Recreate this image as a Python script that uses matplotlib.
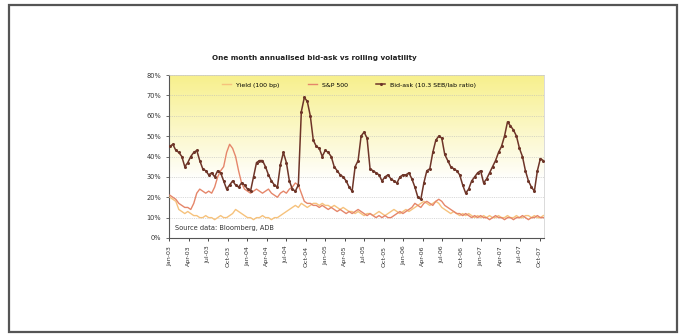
import numpy as np
import pandas as pd
import matplotlib
matplotlib.use("Agg")
import matplotlib.pyplot as plt
from matplotlib.patches import Rectangle
from matplotlib.ticker import FuncFormatter, MultipleLocator

# Fortnightly observations, in percent
dates = pd.date_range("2003-01-03", periods=126, freq="14D")

bid_ask = [45, 46, 43, 42, 40, 35, 37, 40, 42, 43, 38, 34, 33, 31, 32, 30, 33, 32, 28, 24,
           26, 28, 26, 25, 27, 26, 24, 23, 30, 37, 38, 38, 35, 31, 28, 26, 25, 36, 42, 37,
           28, 24, 23, 26, 62, 69, 67, 60, 48, 45, 44, 40, 43, 42, 40, 35, 33, 31, 30, 28,
           25, 23, 35, 38, 50, 52, 49, 34, 33, 32, 31, 28, 30, 31, 29, 28, 27, 30, 31, 31,
           32, 29, 25, 20, 19, 27, 33, 34, 42, 48, 50, 49, 41, 38, 35, 34, 33, 31, 26, 22,
           24, 28, 30, 32, 33, 27, 29, 32, 35, 38, 42, 45, 50, 57, 55, 53, 50, 44, 40, 33,
           28, 25, 23, 33, 39, 38]

sp500 = [21, 20, 19, 17, 16, 15, 15, 14, 17, 22, 24, 23, 22, 23, 22, 25, 30, 33, 35, 42,
         46, 44, 40, 33, 27, 24, 23, 22, 23, 24, 23, 22, 23, 24, 22, 21, 20, 22, 23, 22,
         24, 25, 27, 26, 22, 18, 17, 17, 16, 16, 15, 16, 15, 14, 15, 14, 13, 14, 13, 12,
         13, 12, 13, 14, 13, 12, 11, 12, 11, 10, 11, 10, 11, 10, 10, 11, 12, 13, 12, 13,
         14, 15, 17, 16, 15, 17, 18, 17, 16, 18, 19, 18, 16, 15, 14, 13, 12, 12, 11, 12,
         11, 10, 11, 10, 11, 10, 10, 9, 10, 11, 10, 10, 9, 10, 10, 9, 10, 10, 11, 10,
         9, 10, 10, 11, 10, 10]

yield_vol = [20, 19, 18, 14, 13, 12, 13, 12, 11, 11, 10, 10, 11, 10, 10, 9, 10, 11, 10, 10,
             11, 12, 14, 13, 12, 11, 10, 10, 9, 10, 10, 11, 10, 10, 9, 10, 10, 11, 12, 13,
             14, 15, 16, 15, 17, 16, 15, 16, 17, 17, 16, 17, 16, 16, 15, 16, 15, 14, 15, 14,
             13, 13, 12, 13, 12, 11, 12, 12, 11, 12, 13, 12, 11, 12, 13, 14, 13, 12, 13, 14,
             13, 14, 15, 16, 17, 18, 17, 16, 17, 18, 17, 15, 14, 13, 12, 13, 12, 11, 12, 11,
             12, 11, 10, 11, 10, 11, 10, 11, 10, 10, 11, 10, 10, 11, 10, 10, 11, 10, 10, 11,
             11, 10, 11, 10, 10, 11]

series_names = ["Yield (100 bp)", "S&P 500", "Bid-ask (10.3 SEB/lab ratio)"]
series_colors = ["#f6c27c", "#e5866a", "#6e3528"]

tick_dates = pd.date_range("2003-01-01", periods=20, freq="QS")
tick_labels = [d.strftime("%b-%y") for d in tick_dates]

fig = plt.figure(figsize=(6.84, 3.34), dpi=100)
fig.patch.set_facecolor("white")

# outer frame
fig.patches.append(Rectangle((9 / 684, 2 / 334), 668 / 684, 327 / 334,
                             transform=fig.transFigure, fill=False,
                             edgecolor="#555555", linewidth=1.6))

ax = fig.add_axes([169 / 684, 1 - 238 / 334, 375 / 684, 163 / 334])

# yellow-to-white background
grad = np.linspace(0, 1, 256).reshape(-1, 1)
top = np.array([0.97, 0.94, 0.55])
bottom = np.array([1.0, 1.0, 1.0])
frac = np.clip((grad - 0.35) / 0.65, 0, 1)
img = bottom + (top - bottom) * frac
img = np.repeat(img[:, :, None], 1, axis=2).reshape(256, 1, 3)
ax.imshow(img, extent=[0, 1, 0, 1], transform=ax.transAxes, aspect="auto",
          origin="lower", zorder=0)

ax.plot(dates, yield_vol, color=series_colors[0], lw=1.0, label=series_names[0], zorder=3)
ax.plot(dates, sp500, color=series_colors[1], lw=1.0, label=series_names[1], zorder=3)
ax.plot(dates, bid_ask, color=series_colors[2], lw=1.1, marker="o", ms=1.2,
        label=series_names[2], zorder=4)

ax.set_ylim(0, 80)
ax.set_xlim(dates[0] - pd.Timedelta(days=4), dates[-1] + pd.Timedelta(days=3))
ax.yaxis.set_major_locator(MultipleLocator(10))
ax.yaxis.set_major_formatter(FuncFormatter(lambda v, p: f"{v:.0f}%"))
ax.set_xticks(tick_dates)
ax.set_xticklabels(tick_labels, rotation=90, fontsize=4.5, color="#333333")
ax.tick_params(axis="y", labelsize=4.8, colors="#333333", length=2, width=0.5)
ax.tick_params(axis="x", length=2, width=0.5)
ax.grid(axis="y", color="#bbbbbb", lw=0.4, linestyle=(0, (2, 2)))
for side in ["top", "right"]:
    ax.spines[side].set_color("#cccccc")
    ax.spines[side].set_linewidth(0.5)
for side in ["left", "bottom"]:
    ax.spines[side].set_color("#555555")
    ax.spines[side].set_linewidth(0.8)

ax.legend(loc="upper center", ncol=3, frameon=False, fontsize=4.5,
          bbox_to_anchor=(0.48, 0.99), handlelength=1.5, columnspacing=4.5)

ax.text(0.015, 0.05, "Source data: Bloomberg, ADB", transform=ax.transAxes,
        fontsize=4.8, color="#333333", zorder=5)

fig.text(0.46, 0.82, "One month annualised bid-ask vs rolling volatility",
         ha="center", fontsize=5.2, fontweight="bold", color="#222222")

fig.savefig("out.png", dpi=100)
